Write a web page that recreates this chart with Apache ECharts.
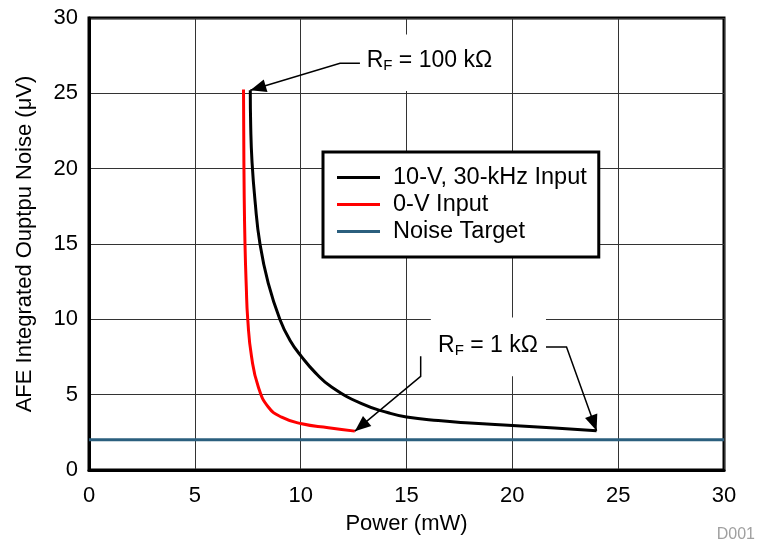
<!DOCTYPE html>
<html><head><meta charset="utf-8">
<script src="https://cdn.jsdelivr.net/npm/echarts@6/dist/echarts.min.js"></script>
<style>html,body{margin:0;padding:0;background:#fff}#c{width:757px;height:548px}</style>
</head><body><div id="c"></div>
<script>
// ---- data ----
const seriesNames = ['10-V, 30-kHz Input', '0-V Input', 'Noise Target'];
const blackX = [7.62, 7.64, 7.70, 7.84, 8.08, 8.47, 9.02, 9.50, 10.05, 10.70, 11.46, 12.88, 14.14, 15.0, 16.5, 18.0, 20.0, 22.0, 23.98];
const blackY = [25.2, 22.8, 20.5, 17.93, 14.98, 12.39, 9.99, 8.6, 7.51, 6.45, 5.51, 4.40, 3.80, 3.52, 3.28, 3.12, 2.95, 2.78, 2.60];
const redX = [7.30, 7.31, 7.33, 7.37, 7.43, 7.50, 7.68, 8.00, 8.47, 9.10, 10.05, 11.31, 12.56];
const redY = [25.25, 22.5, 18.5, 14.98, 12.2, 9.99, 7.51, 5.51, 4.18, 3.51, 3.07, 2.81, 2.58];
const targetX = [0, 30];
const targetY = [2, 2];
const xTickLabels = ['0', '5', '10', '15', '20', '25', '30'];
const yTickLabels = ['0', '5', '10', '15', '20', '25', '30'];
const annoTexts = ['100 k\u03A9', '1 k\u03A9'];

const FONT = "'Liberation Sans', Arial, sans-serif";
const zip = (xs, ys) => xs.map((x, i) => [x, ys[i]]);

const chart = echarts.init(document.getElementById('c'), null, {renderer: 'canvas'});
const option = {
  animation: false,
  backgroundColor: '#fff',
  grid: {left: 89, right: 33, top: 18, bottom: 78, show: true, borderColor: '#000', borderWidth: 3,
    backgroundColor: 'transparent', containLabel: false, outerBoundsMode: 'none'},
  xAxis: {
    type: 'value', min: 0, max: 30, interval: 5,
    name: 'Power (mW)', nameLocation: 'middle', nameGap: 43,
    nameTextStyle: {fontSize: 22, color: '#000', fontFamily: FONT},
    axisLine: {show: true, lineStyle: {color: '#000', width: 3}},
    axisTick: {show: false},
    axisLabel: {fontSize: 22, color: '#000', fontFamily: FONT, margin: 15,
      formatter: (v) => xTickLabels[Math.round(v / 5)]},
    splitLine: {show: true, lineStyle: {color: '#333', width: 1}}
  },
  yAxis: {
    type: 'value', min: 0, max: 30, interval: 5,
    name: 'AFE Integrated Ouptpu Noise (\u03BCV)', nameLocation: 'middle', nameGap: 53,
    nameTextStyle: {fontSize: 22, color: '#000', fontFamily: FONT},
    axisLine: {show: true, lineStyle: {color: '#000', width: 3}},
    axisTick: {show: false},
    axisLabel: {fontSize: 22, color: '#000', fontFamily: FONT, margin: 11,
      formatter: (v) => yTickLabels[Math.round(v / 5)]},
    splitLine: {show: true, lineStyle: {color: '#333', width: 1}}
  },
  legend: {
    orient: 'vertical', left: 323, top: 152,
    backgroundColor: '#fff', borderColor: '#000', borderWidth: 3, borderRadius: 0,
    padding: [12, 12, 12, 14], itemWidth: 43, itemHeight: 3, itemGap: 0, icon: 'rect',
    textStyle: {fontSize: 23.5, lineHeight: 27, color: '#000', fontFamily: FONT, padding: [0, 0, 0, 8]},
    data: seriesNames
  },
  series: [
    {name: seriesNames[0], type: 'line', data: zip(blackX, blackY), showSymbol: false, smooth: 0.5,
      lineStyle: {color: '#000', width: 3}, itemStyle: {color: '#000'}, z: 3},
    {name: seriesNames[1], type: 'line', data: zip(redX, redY), showSymbol: false, smooth: 0.5,
      lineStyle: {color: '#ff0000', width: 3}, itemStyle: {color: '#ff0000'}, z: 3},
    {name: seriesNames[2], type: 'line', data: zip(targetX, targetY), showSymbol: false,
      lineStyle: {color: '#2b5f7e', width: 3}, itemStyle: {color: '#2b5f7e'}, z: 2}
  ]
};
chart.setOption(option);

function P(x, y) { return chart.convertToPixel({gridIndex: 0}, [x, y]); }
function arrowHead(from, tip) {
  const dx = tip[0] - from[0], dy = tip[1] - from[1];
  const L = Math.hypot(dx, dy), ux = dx / L, uy = dy / L;
  const len = 16, hw = 6.5;
  const bx = tip[0] - ux * len, by = tip[1] - uy * len;
  return {type: 'polygon', z: 10, shape: {points: [tip, [bx - uy * hw, by + ux * hw], [bx + uy * hw, by - ux * hw]]},
    style: {fill: '#000'}};
}
function rectFrom(a, b) {
  return {type: 'rect', z: 1, shape: {x: Math.min(a[0], b[0]), y: Math.min(a[1], b[1]),
    width: Math.abs(b[0] - a[0]), height: Math.abs(b[1] - a[1])}, style: {fill: '#fff'}};
}
function label(pos, val) {
  return {type: 'text', z: 10, x: pos[0], y: pos[1],
    style: {text: '{a|R}{b|F}{a| = ' + val + '}', fill: '#000', verticalAlign: 'middle', align: 'left',
      rich: {a: {fontSize: 23, lineHeight: 24, fontFamily: FONT, fill: '#000'},
             b: {fontSize: 15, lineHeight: 10, fontFamily: FONT, fill: '#000', verticalAlign: 'bottom'}}}};
}
function line(pts) {
  return {type: 'polyline', z: 10, shape: {points: pts}, style: {stroke: '#000', lineWidth: 1.5, fill: null}};
}

const topTip = P(blackX[0], blackY[0]);
const blackEnd = P(blackX[blackX.length - 1], blackY[blackY.length - 1]);
const redEnd = P(redX[redX.length - 1], redY[redY.length - 1]);
const topElbow = P(11.86, 27.0);
const rightElbow = P(22.56, 8.17);
const leftElbow = P(15.67, 6.22);

const graphics = [
  rectFrom(P(12.85, 28.9), P(19.4, 25.15)),
  label(P(13.12, 27.15), annoTexts[0]),
  line([P(12.8, 27.0), topElbow, topTip]),
  arrowHead(topElbow, topTip),
  rectFrom(P(16.15, 10.12), P(21.59, 6.22)),
  label(P(16.49, 8.22), annoTexts[1]),
  line([P(21.59, 8.17), rightElbow, blackEnd]),
  arrowHead(rightElbow, blackEnd),
  line([P(15.67, 7.55), leftElbow, redEnd]),
  arrowHead(leftElbow, redEnd),
  {type: 'text', z: 10, right: 2, bottom: 5, style: {text: 'D001', fill: '#a0a0a0', fontSize: 16, fontFamily: FONT}}
];
chart.setOption({graphic: graphics});
</script>
</body></html>
